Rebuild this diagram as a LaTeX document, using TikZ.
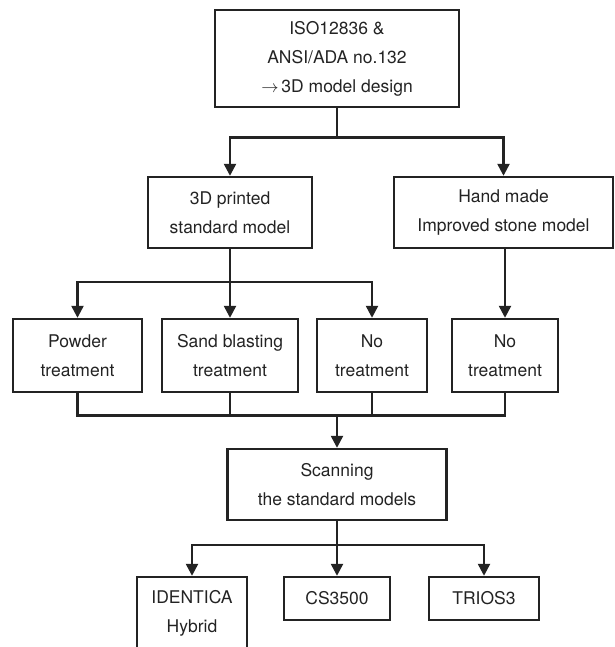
\documentclass[tikz,border=0pt]{standalone}
\usepackage{fontspec}
\setmainfont{TeX Gyre Heros}
\usetikzlibrary{arrows.meta}
\definecolor{ink}{RGB}{35,35,35}
\tikzset{
  box/.style={draw=ink, line width=2.4pt, inner sep=0pt, align=center,
    text=ink, font=\fontsize{17.5}{29}\selectfont},
  link/.style={draw=ink, line width=2.4pt},
  arr/.style={link, -{Triangle[width=12pt,length=12pt]}}
}
\begin{document}
\begin{tikzpicture}[x=1pt,y=-1pt]
\useasboundingbox (0,0) rectangle (614,647);
\clip (0,0) rectangle (614,647);
% nodes
\node[box, minimum width=244pt, minimum height=97pt] (top) at (337,58.5)
  {ISO12836 \&\\ANSI/ADA no.132\\$\rightarrow$\,3D model design};
\node[box, minimum width=164pt, minimum height=71pt] (p3d) at (230,212.5)
  {3D printed\\standard model};
\node[box, minimum width=219pt, minimum height=71pt] (hand) at (503.5,212.5)
  {Hand made\\Improved stone model};
\node[box, minimum width=129pt, minimum height=73pt] (powder) at (77.5,355.5)
  {Powder\\treatment};
\node[box, minimum width=136pt, minimum height=73pt] (sand) at (230,355.5)
  {Sand blasting\\treatment};
\node[box, minimum width=110pt, minimum height=73pt] (noa) at (372,355.5)
  {No\\treatment};
\node[box, minimum width=106pt, minimum height=73pt] (nob) at (505,355.5)
  {No\\treatment};
\node[box, minimum width=219pt, minimum height=71pt] (scan) at (337,484.5)
  {Scanning\\the standard models};
\node[box, minimum width=110pt, minimum height=72pt] (iden) at (192,613)
  {IDENTICA\\Hybrid};
\node[box, minimum width=106pt, minimum height=43pt] (cs) at (337,598.5)
  {CS3500};
\node[box, minimum width=110pt, minimum height=43pt] (trios) at (484,598.5)
  {TRIOS3};
% junctions
\coordinate (j1) at (337,137.5);
\coordinate (j2) at (230,282);
\coordinate (j3) at (337,415.5);
\coordinate (j4) at (337,545);
% connectors
\draw[link] (top.south) -- (j1);
\draw[arr] (j1) -| (p3d);
\draw[arr] (j1) -| (hand);
\draw[link] (p3d.south) -- (j2);
\draw[arr] (j2) -| (powder);
\draw[arr] (j2) -- (sand);
\draw[arr] (j2) -| (noa);
\draw[arr] (hand.south -| nob.north) -- (nob.north);
\draw[link, line join=miter] (powder.south) -- (powder.south |- j3) -- (nob.south |- j3) -- (nob.south);
\draw[link] (sand.south) -- (sand.south |- j3);
\draw[link] (noa.south) -- (noa.south |- j3);
\draw[arr] (j3) -- (scan);
\draw[link] (scan.south) -- (j4);
\draw[arr] (j4) -| (iden);
\draw[arr] (j4) -- (cs);
\draw[arr] (j4) -| (trios);
\end{tikzpicture}
\end{document}
